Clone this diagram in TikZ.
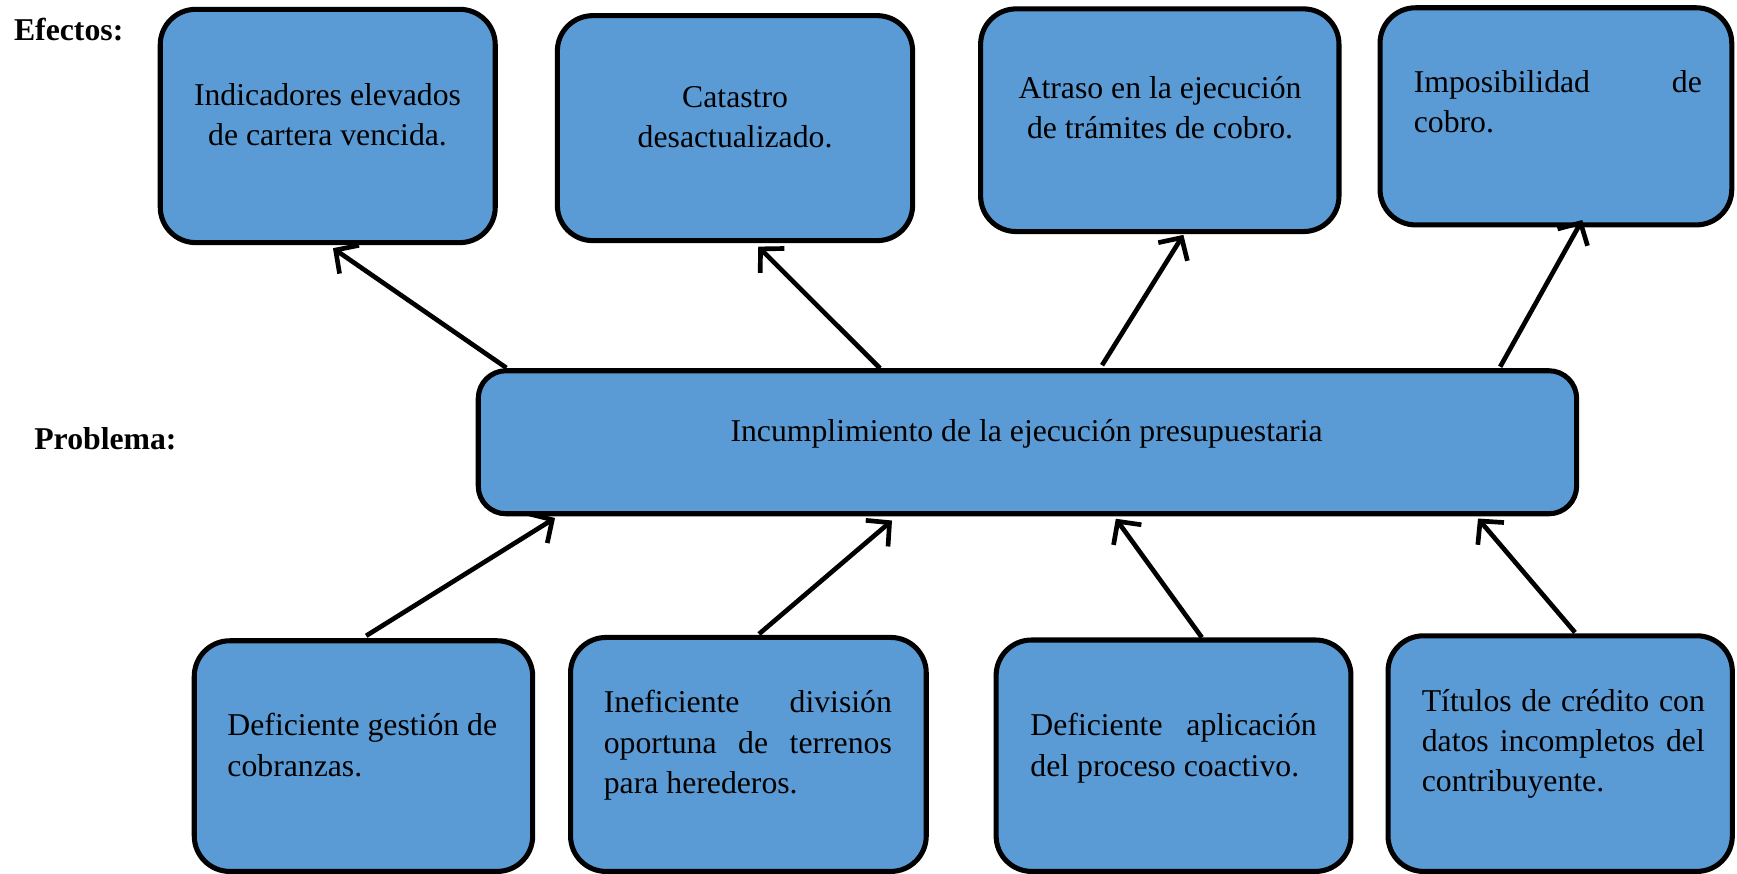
\documentclass[tikz,border=0pt]{standalone}
\usepackage{fontspec}
\setmainfont{Liberation Serif}
\usetikzlibrary{arrows.meta,calc}
\definecolor{boxblue}{HTML}{5B9BD5}
\newcommand{\jl}[2]{\makebox[#1][s]{#2}}
\begin{document}
\begin{tikzpicture}[x=0.02cm,y=-0.02cm,
  txt/.style={inner sep=0pt,outer sep=0pt,font=\fontsize{16.3}{20.66}\selectfont},
  hdr/.style={inner sep=0pt,outer sep=0pt,font=\fontsize{16.3}{20.66}\selectfont\bfseries,anchor=base west},
  ebox/.style={draw=black,fill=boxblue,line width=2.6pt,rounded corners=0.64cm,inner sep=0pt,outer sep=0pt},
  pbox/.style={draw=black,fill=boxblue,line width=2.6pt,rounded corners=0.5cm,inner sep=0pt,outer sep=0pt},
  conn/.style={line width=2.4pt,-{Straight Barb[length=0.3cm,width=0.62cm,line width=2.4pt]}}]
\useasboundingbox (0,0) rectangle (1567.7,788.8);
% effect boxes
\node[ebox,minimum width=6.048cm,minimum height=4.212cm] (e1) at (295.8,113.7) {};
\node[ebox,minimum width=6.414cm,minimum height=4.062cm] (e2) at (663.35,115.65) {};
\node[ebox,minimum width=6.47cm,minimum height=4.02cm] (e3) at (1046.75,108.5) {};
\node[ebox,minimum width=6.35cm,minimum height=3.92cm] (e4) at (1404.25,105) {};
% problem
\node[pbox,minimum width=19.83cm,minimum height=2.582cm] (p) at (927.3,399.15) {};
% cause boxes
\node[ebox,minimum width=6.11cm,minimum height=4.164cm] (c1) at (328.05,682.4) {};
\node[ebox,minimum width=6.422cm,minimum height=4.224cm] (c2) at (675.45,680.9) {};
\node[ebox,minimum width=6.406cm,minimum height=4.178cm] (c3) at (1059.15,682.05) {};
\node[ebox,minimum width=6.216cm,minimum height=4.254cm] (c4) at (1408.1,680.15) {};
% headers
\node[hdr] (hef) at (12.7,36.7) {Efectos:};
\node[hdr] (hpr) at (31,405.5) {Problema:};
% texts (base anchor = baseline of last line)
\node[txt,anchor=base,align=center] (e1t) at (295.6,131.5) {Indicadores elevados\\de cartera vencida.};
\node[txt,anchor=base,align=center] (e2t) at (663.4,133) {Catastro\\desactualizado.};
\node[txt,anchor=base,align=center] (e3t) at (1047,124.8) {Atraso en la ejecución\\de trámites de cobro.};
\node[txt,anchor=base west,align=left] (e4t) at (1276,120) {\jl{5.2cm}{Imposibilidad de}\\cobro.};
\node[txt,anchor=base] (pt) at (926.5,398.5) {Incumplimiento de la ejecución presupuestaria};
\node[txt,anchor=base west,align=left] (c1t) at (205.3,700.4) {Deficiente gestión de\\cobranzas.};
\node[txt,anchor=base west,align=left] (c2t) at (545,716) {\jl{5.2cm}{Ineficiente división}\\\jl{5.2cm}{oportuna de terrenos}\\para herederos.};
\node[txt,anchor=base west,align=left] (c3t) at (930,700.4) {\jl{5.17cm}{Deficiente aplicación}\\del proceso coactivo.};
\node[txt,anchor=base west,align=left] (c4t) at (1283.2,714.6) {\jl{5.11cm}{Títulos de crédito con}\\\jl{5.11cm}{datos incompletos del}\\contribuyente.};
% connectors
\draw[conn] ($(p.north west)+(25.4,-2.6)$) -- ($(e1.south)+(4.7,5)$);
\draw[conn] ($(p.north west)+(362.6,-2.2)$) -- ($(e2.south)+(21,5.4)$);
\draw[conn] ($(p.north west)+(563,-5)$) -- ($(e3.south)+(21.25,3)$);
\draw[conn] ($(p.north east)+(-69,-3.6)$) -- ($(e4.south)+(23.75,-4.4)$);
\draw[conn] ($(c1.north)+(2.45,-4.5)$) -- ($(p.south west)+(69.3,3.8)$);
\draw[conn] ($(c2.north)+(9.55,-3.1)$) -- ($(p.south west)+(373.4,6.1)$);
\draw[conn] ($(c3.north)+(25.55,-2.3)$) -- ($(p.south west)+(575.4,4.5)$);
\draw[conn] ($(c4.north)+(13.4,-3)$) -- ($(p.south east)+(-89,4.3)$);
\end{tikzpicture}
\end{document}
